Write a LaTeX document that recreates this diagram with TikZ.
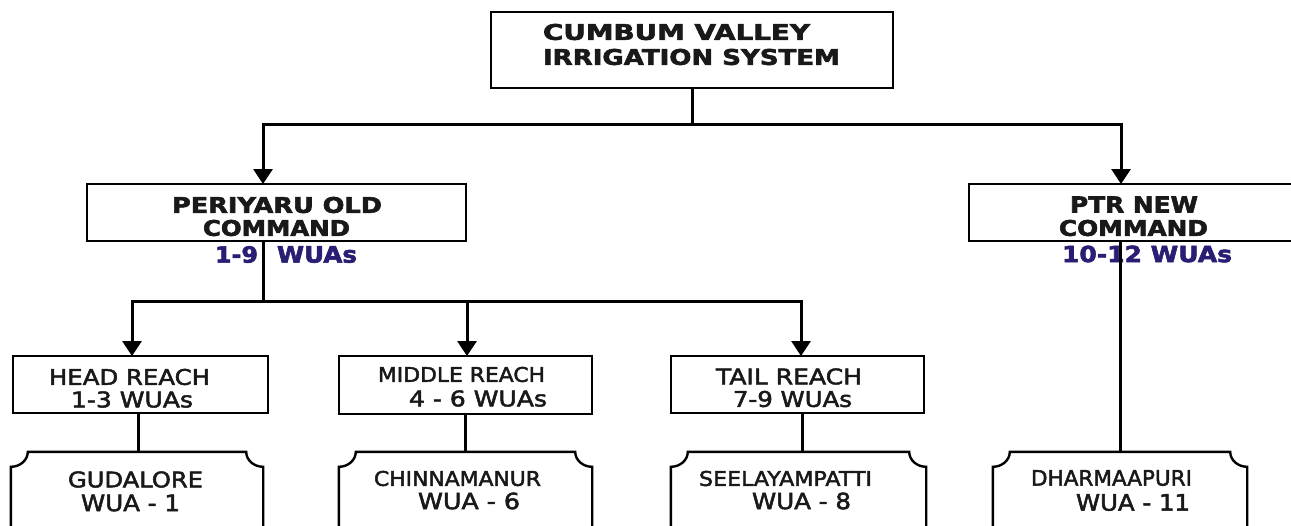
\documentclass[tikz,border=0pt]{standalone}
\usepackage{fontspec}
\usepackage{graphicx}
\setmainfont{DejaVu Sans}[RawFeature={embolden=2.2}]
\newfontfamily\heavyf{DejaVu Sans}[RawFeature={embolden=2.4}]
\usetikzlibrary{arrows.meta,calc}
\definecolor{wuablue}{RGB}{40,30,115}
\newcommand\rs[3]{\resizebox{#1pt}{#2pt}{#3}}
\newcommand\plaquedraw[1]{%
  \draw[boxline] ($(#1.north west)+(17,0)$) -- ($(#1.north east)+(-17,0)$)
    .. controls ($(#1.north east)+(-17,8.3)$) and ($(#1.north east)+(-9.4,15)$) .. ($(#1.north east)+(0,15)$)
    -- ($(#1.south east)+(0,-15)$)
    .. controls ($(#1.south east)+(-9.4,-15)$) and ($(#1.south east)+(-17,-8.3)$) .. ($(#1.south east)+(-17,0)$)
    -- ($(#1.south west)+(17,0)$)
    .. controls ($(#1.south west)+(17,-8.3)$) and ($(#1.south west)+(9.4,-15)$) .. ($(#1.south west)+(0,-15)$)
    -- ($(#1.north west)+(0,15)$)
    .. controls ($(#1.north west)+(9.4,15)$) and ($(#1.north west)+(17,8.3)$) .. cycle;}
\begin{document}
\begin{tikzpicture}[x=1pt,y=-1pt,
  boxline/.style={draw=black, line width=2.4pt},
  box/.style={boxline, rectangle, inner sep=0},
  plaquenode/.style={rectangle, inner sep=0},
  conn/.style={draw=black, line width=3pt},
  arr/.style={conn, -{Triangle[width=19pt,length=15pt]}},
  txt/.style={inner sep=0, anchor=center, text=black!90},
  btxt/.style={txt, font=\heavyf\bfseries},
  wuatxt/.style={txt, font=\heavyf\bfseries, text=wuablue}]
\useasboundingbox (0,0) rectangle (1291,525);
\clip (0,0) rectangle (1291,525);
\fill[white] (0,0) rectangle (1291,525);

% boxes
\node[box, minimum width=402pt, minimum height=76pt] (top) at (692,50) {};
\node[box, minimum width=379pt, minimum height=57pt] (peri) at (276.5,212.5) {};
\node[box, minimum width=341pt, minimum height=57pt] (ptr) at (1139.5,212.5) {};
\node[box, minimum width=255pt, minimum height=57pt] (head) at (140.5,384.5) {};
\node[box, minimum width=253pt, minimum height=58pt] (mid) at (465.5,385) {};
\node[box, minimum width=253pt, minimum height=57pt] (tail) at (797.5,384.5) {};
\node[plaquenode, minimum width=252pt, minimum height=118pt] (gud) at (137,511) {};
\node[plaquenode, minimum width=253pt, minimum height=118pt] (chin) at (465.5,511) {};
\node[plaquenode, minimum width=255pt, minimum height=118pt] (seel) at (798.5,511) {};
\node[plaquenode, minimum width=254pt, minimum height=118pt] (dhar) at (1120,511) {};
\plaquedraw{gud}
\plaquedraw{chin}
\plaquedraw{seel}
\plaquedraw{dhar}

% texts
\node[btxt] (top1) at (676.5,32) {\rs{267}{16}{CUMBUM VALLEY}};
\node[btxt] (top2) at (691.5,57) {\rs{297}{16}{IRRIGATION SYSTEM}};
\node[btxt] (peri1) at (277,205) {\rs{210}{16}{PERIYARU OLD}};
\node[btxt] (peri2) at (276.5,228) {\rs{147}{16}{COMMAND}};
\node[wuatxt] (peri3a) at (236.5,254.5) {\rs{43}{16.5}{1-9}};
\node[wuatxt] (peri3b) at (317,254.5) {\rs{80}{16.5}{WUAs}};
\node[btxt] (ptr1) at (1134,204.5) {\rs{128}{16}{PTR NEW}};
\node[btxt] (ptr2) at (1133.5,228) {\rs{149}{16}{COMMAND}};
\node[wuatxt] (ptr3) at (1147,254) {\rs{170}{16.5}{10-12 WUAs}};
\node[txt] (head1) at (129.5,377) {\rs{161}{16}{HEAD REACH}};
\node[txt] (head2) at (132,399.5) {\rs{122}{16}{1-3 WUAs}};
\node[txt] (mid1) at (461.5,374.5) {\rs{167}{15}{MIDDLE REACH}};
\node[txt] (mid2) at (478,398.5) {\rs{138}{16}{4 - 6 WUAs}};
\node[txt] (tail1) at (789,376.5) {\rs{146}{16}{TAIL REACH}};
\node[txt] (tail2) at (792.5,399) {\rs{119}{16}{7-9 WUAs}};
\node[txt] (gud1) at (135.5,479.5) {\rs{135}{16}{GUDALORE}};
\node[txt] (gud2) at (130.5,503) {\rs{99}{16.5}{WUA - 1}};
\node[txt] (chin1) at (457.5,478.5) {\rs{167}{15}{CHINNAMANUR}};
\node[txt] (chin2) at (469,501) {\rs{102}{16.5}{WUA - 6}};
\node[txt] (seel1) at (785.5,478.5) {\rs{173}{15}{SEELAYAMPATTI}};
\node[txt] (seel2) at (801.5,501) {\rs{99}{16.5}{WUA - 8}};
\node[txt] (dhar1) at (1111.5,478) {\rs{161}{15.5}{DHARMAAPURI}};
\node[txt] (dhar2) at (1133,502.5) {\rs{114}{16.5}{WUA - 11}};

% connector points
\coordinate (bus1) at (692,124.5);
\coordinate (periin) at (263,184);
\coordinate (ptrin) at (1121,184);
\coordinate (periout) at (263,241);
\coordinate (bus2) at (263,301);
\coordinate (headin) at (132,356);
\coordinate (midin) at (467,356);
\coordinate (tailin) at (801,356);

% connectors
\draw[conn] (top.south) -- (bus1);
\draw[arr] (bus1) -| (periin);
\draw[arr] (bus1) -| (ptrin);
\draw[conn] (periout) -- (bus2);
\draw[arr] (bus2) -| (headin);
\draw[arr] (bus2) -| (midin);
\draw[arr] (bus2) -| (tailin);
\draw[conn] ([xshift=1pt]gud.north) -- ([xshift=1pt]gud.north |- head.south);
\draw[conn] ([xshift=-0.5pt]chin.north) -- ([xshift=-0.5pt]chin.north |- mid.south);
\draw[conn] ([xshift=3.5pt]seel.north) -- ([xshift=3.5pt]seel.north |- tail.south);
\draw[conn] (dhar.north) -- (dhar.north |- ptr.south);
\end{tikzpicture}
\end{document}
